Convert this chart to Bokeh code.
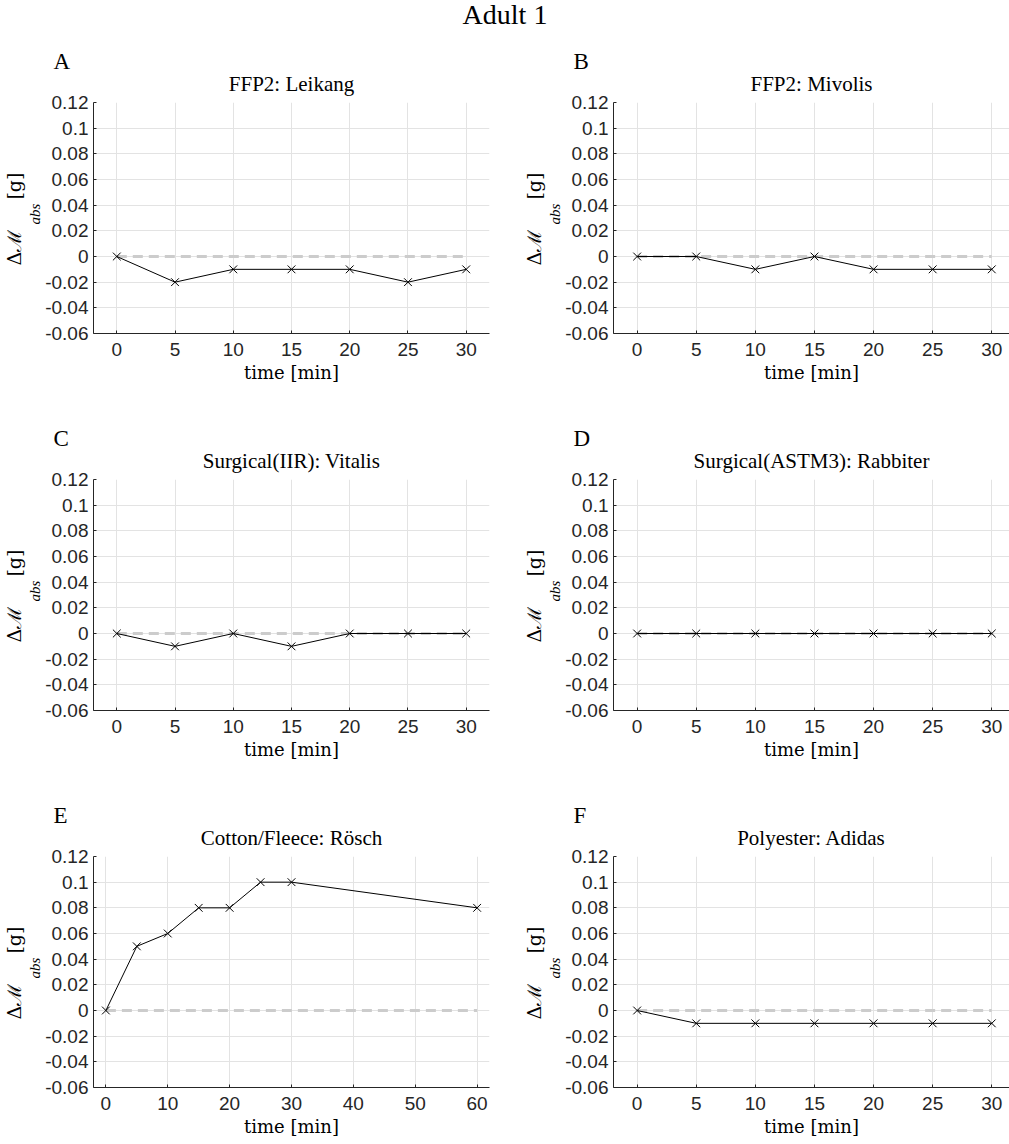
import math
from bokeh.plotting import figure
from bokeh.models import Range1d, FixedTicker, Title
from bokeh.layouts import column, row
from bokeh.embed import file_html
from bokeh.resources import INLINE

# ---------------- data ----------------
SUPTITLE = "Adult 1"
PANEL_LETTERS = ["A", "B", "C", "D", "E", "F"]
PANEL_TITLES = [
    "FFP2: Leikang",
    "FFP2: Mivolis",
    "Surgical(IIR): Vitalis",
    "Surgical(ASTM3): Rabbiter",
    "Cotton/Fleece: Rösch",
    "Polyester: Adidas",
]
TIME_30 = [0, 5, 10, 15, 20, 25, 30]
TIME_60 = [0, 5, 10, 15, 20, 25, 30, 60]

MASS_A = [0.0, -0.02, -0.01, -0.01, -0.01, -0.02, -0.01]
MASS_B = [0.0, 0.0, -0.01, 0.0, -0.01, -0.01, -0.01]
MASS_C = [0.0, -0.01, 0.0, -0.01, 0.0, 0.0, 0.0]
MASS_D = [0.0, 0.0, 0.0, 0.0, 0.0, 0.0, 0.0]
MASS_E = [0.0, 0.05, 0.06, 0.08, 0.08, 0.10, 0.10, 0.08]
MASS_F = [0.0, -0.01, -0.01, -0.01, -0.01, -0.01, -0.01]

XTICKS_30 = [0, 5, 10, 15, 20, 25, 30]
XTICKS_60 = [0, 10, 20, 30, 40, 50, 60]
YTICKS = [-0.06, -0.04, -0.02, 0, 0.02, 0.04, 0.06, 0.08, 0.1, 0.12]
YTICK_LABELS = ["-0.06", "-0.04", "-0.02", "0", "0.02", "0.04", "0.06", "0.08", "0.1", "0.12"]
X_LABEL = "time [min]"
Y_LABEL_MAIN = "Δℳ" + "\u00a0" * 5 + "[g]"
Y_LABEL_SUB = "abs"

PANELS = [
    (TIME_30, MASS_A, XTICKS_30),
    (TIME_30, MASS_B, XTICKS_30),
    (TIME_30, MASS_C, XTICKS_30),
    (TIME_30, MASS_D, XTICKS_30),
    (TIME_60, MASS_E, XTICKS_60),
    (TIME_30, MASS_F, XTICKS_30),
]

# ---------------- style ----------------
SERIF = "Liberation Serif"
SERIF_LBL = "DejaVu Serif"
SANS = "Liberation Sans"
AX_COLOR = "#262626"
GRID_COLOR = "#e3e3e3"
Y0, Y1 = -0.06, 0.12


def make_panel(idx, col, row_i):
    t, m, xt = PANELS[idx]
    left_col = col == 0
    width = 505 if left_col else 504
    border_left = 87 if left_col else 108
    border_right = 16 if left_col else 0
    height = 350 if row_i == 2 else 377
    border_bottom = 57 if row_i == 2 else 84
    x0 = -2
    if xt[-1] == 60:
        x1 = 62
    else:
        x1 = 32 if left_col else 31.5

    p = figure(width=width, height=height, output_backend="svg",
               toolbar_location=None, tools="",
               x_range=Range1d(x0, x1), y_range=Range1d(Y0, Y1),
               min_border_left=border_left, min_border_right=border_right,
               min_border_top=62, min_border_bottom=border_bottom)
    p.outline_line_color = None
    p.background_fill_color = "white"
    p.border_fill_color = "white"

    # panel letter (outermost title)
    p.title.text = PANEL_LETTERS[idx]
    p.title.align = "left"
    p.title.offset = -40
    p.title.text_font = SERIF
    p.title.text_font_size = "23px"
    p.title.text_font_style = "normal"
    p.title.text_color = "black"
    p.title.standoff = -23
    # panel title (nearer the frame)
    p.add_layout(Title(text=PANEL_TITLES[idx], align="center",
                       text_font=SERIF, text_font_size="21px", text_font_style="normal",
                       text_color="black", standoff=14), "above")

    # axes
    p.xaxis.ticker = FixedTicker(ticks=xt)
    p.yaxis.ticker = FixedTicker(ticks=YTICKS)
    p.yaxis.major_label_overrides = {v: s for v, s in zip(YTICKS, YTICK_LABELS)}
    for ax in (p.xaxis[0], p.yaxis[0]):
        ax.axis_line_color = AX_COLOR
        ax.axis_line_width = 1
        ax.major_tick_line_color = AX_COLOR
        ax.major_tick_in = 3
        ax.major_tick_out = 0
        ax.minor_tick_line_color = None
        ax.major_label_text_font = SANS
        ax.major_label_text_font_size = "19px"
        ax.major_label_text_color = AX_COLOR
    p.xaxis.major_label_standoff = 9
    p.yaxis.major_label_standoff = 5

    # x label below the axis
    p.add_layout(Title(text=X_LABEL, align="center", vertical_align="top",
                       text_font=SERIF_LBL, text_font_size="18px", text_font_style="normal",
                       text_color="black", standoff=6), "below")

    # y label: subscript part (nearer the axis) then main part
    p.add_layout(Title(text=Y_LABEL_SUB, align="left", offset=109,
                       text_font=SERIF, text_font_size="15px", text_font_style="italic",
                       text_color="black", standoff=0), "left")
    p.add_layout(Title(text=Y_LABEL_MAIN, align="left", offset=68,
                       text_font=SERIF_LBL, text_font_size="19px", text_font_style="normal",
                       text_color="black", standoff=0), "left")

    p.xgrid.ticker = FixedTicker(ticks=xt)
    p.ygrid.ticker = FixedTicker(ticks=YTICKS)
    p.xgrid.grid_line_color = GRID_COLOR
    p.ygrid.grid_line_color = GRID_COLOR

    # reference zero line
    p.line([t[0], t[-1]], [0, 0], line_color="#cccccc", line_width=3, line_dash="10 6")
    # data
    p.line(t, m, line_color="black", line_width=1)
    p.scatter(t, m, marker="x", size=11, line_color="black", line_width=1)
    return p


header = figure(width=1009, height=40, output_backend="svg", toolbar_location=None,
                tools="", x_range=Range1d(0, 1), y_range=Range1d(0, 1),
                x_axis_location=None, y_axis_location=None, min_border=0)
header.grid.visible = False
header.outline_line_color = None
header.title.text = SUPTITLE
header.title.align = "center"
header.title.text_font = SERIF
header.title.text_font_size = "28px"
header.title.text_font_style = "normal"
header.title.text_color = "black"
header.title.standoff = -8

rows = []
for r in range(3):
    rows.append(row(make_panel(2 * r, 0, r), make_panel(2 * r + 1, 1, r), spacing=0))

layout = column(header, *rows, spacing=0)

with open("out.html", "w") as f:
    f.write(file_html(layout, INLINE))
